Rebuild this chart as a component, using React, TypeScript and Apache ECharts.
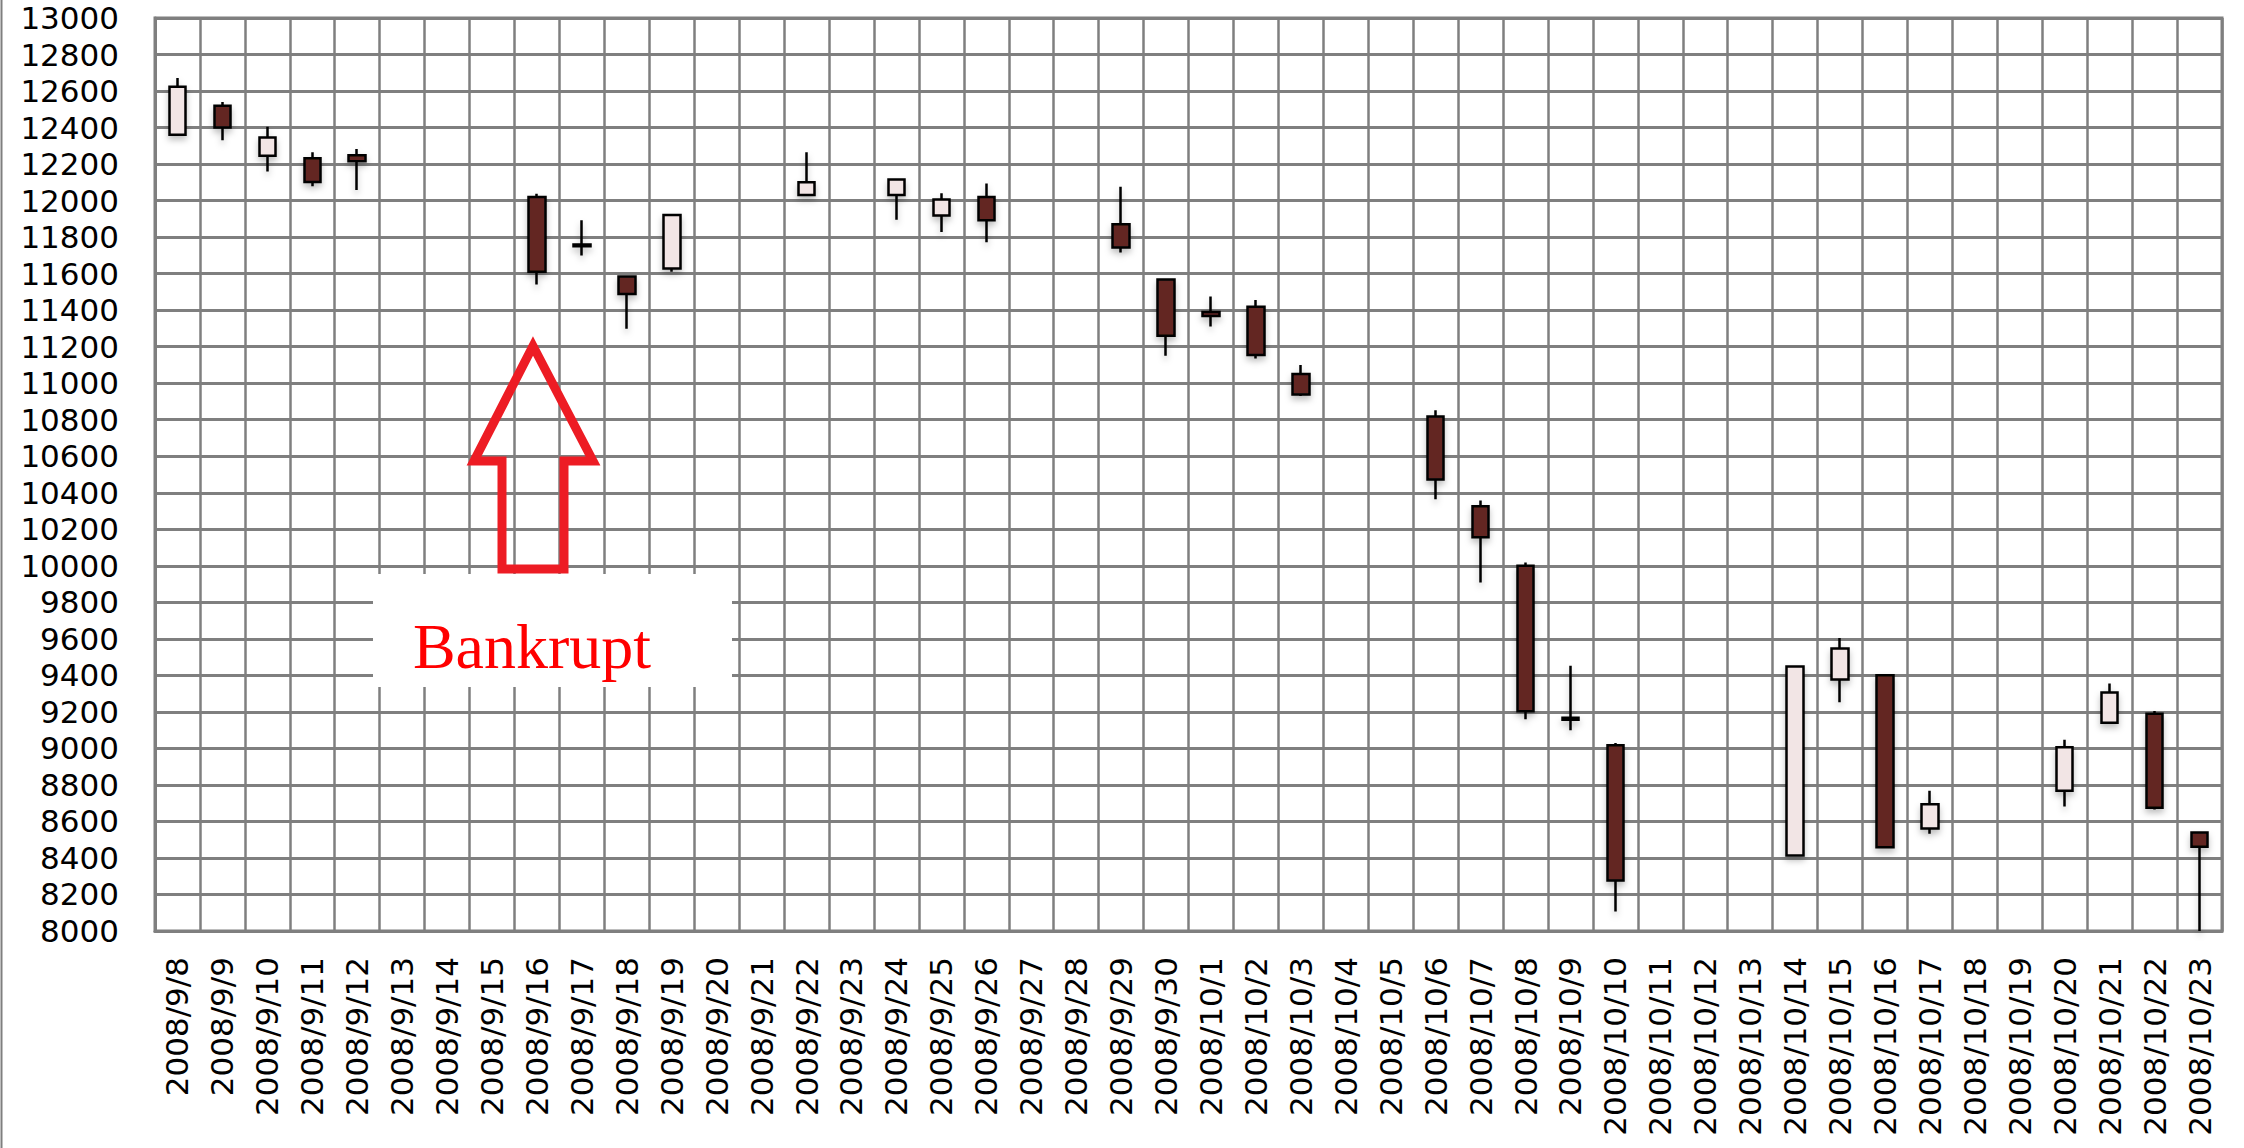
import React, { useEffect, useRef } from "react";
import * as echarts from "echarts";

const categories = [
  "2008/9/8", "2008/9/9", "2008/9/10", "2008/9/11", "2008/9/12", "2008/9/13", "2008/9/14", "2008/9/15",
  "2008/9/16", "2008/9/17", "2008/9/18", "2008/9/19", "2008/9/20", "2008/9/21", "2008/9/22", "2008/9/23",
  "2008/9/24", "2008/9/25", "2008/9/26", "2008/9/27", "2008/9/28", "2008/9/29", "2008/9/30", "2008/10/1",
  "2008/10/2", "2008/10/3", "2008/10/4", "2008/10/5", "2008/10/6", "2008/10/7", "2008/10/8", "2008/10/9",
  "2008/10/10", "2008/10/11", "2008/10/12", "2008/10/13", "2008/10/14", "2008/10/15", "2008/10/16", "2008/10/17",
  "2008/10/18", "2008/10/19", "2008/10/20", "2008/10/21", "2008/10/22", "2008/10/23",
];

const opens = [
  12360, 12520, 12245, 12232, 12248, null, null, null,
  12020, 11760, 11585, 11628, null, null, 12030, null,
  12030, 11918, 12020, null, null, 11870, 11568, 11390,
  11418, 11050, null, null, 10818, 10326, 10000, 9168,
  9017, null, null, null, 8414, 9377, 9400, 8562,
  null, null, 8768, 9140, 9190, 8540,
];
const closes = [
  12624, 12400, 12346, 12102, 12215, null, null, null,
  11610, 11750, 11489, 11921, null, null, 12100, null,
  12115, 12006, 11893, null, null, 11743, 11260, 11368,
  11155, 10938, null, null, 10473, 10156, 9203, 9157,
  8276, null, null, null, 9448, 9547, 8458, 8694,
  null, null, 9006, 9306, 8675, 8461,
];
const lows = [
  12355, 12330, 12160, 12078, 12058, null, null, null,
  11540, 11700, 11298, 11610, null, null, 12025, null,
  11895, 11828, 11772, null, null, 11716, 11150, 11310,
  11135, 10930, null, null, 10364, 9908, 9160, 9100,
  8107, null, null, null, 8410, 9253, 8455, 8533,
  null, null, 8682, 9135, 8665, 8000,
];
const highs = [
  12672, 12540, 12405, 12265, 12282, null, null, null,
  12038, 11893, 11590, 11925, null, null, 12265, null,
  12120, 12040, 12093, null, null, 12076, 11570, 11475,
  11455, 11100, null, null, 10852, 10357, 10018, 9452,
  9030, null, null, null, 9450, 9604, 9405, 8768,
  null, null, 9048, 9355, 9205, 8545,
];

const yMin = 8000;
const yMax = 13000;
const yStep = 200;
const annotationText = "Bankrupt";

export default function App() {
  const ref = useRef<HTMLDivElement>(null);
  useEffect(() => {
    if (!ref.current) return;
    const chart = echarts.init(ref.current, null, { renderer: "svg" });
    const data = categories.map((_, i) =>
      opens[i] == null
        ? ["-", "-", "-", "-"]
        : [opens[i], closes[i], lows[i], highs[i]]
    );
    const grey = "#7f7f7f";
    chart.setOption({
      animation: false,
      backgroundColor: "#ffffff",
      grid: {
        left: 155,
        right: 22,
        top: 18,
        bottom: 217,
        show: true,
        borderColor: grey,
        borderWidth: 3,
        backgroundColor: "transparent",
      },
      xAxis: {
        type: "category",
        data: categories,
        boundaryGap: true,
        axisLine: { show: true, lineStyle: { color: grey, width: 3 } },
        axisTick: { show: false },
        axisLabel: {
          interval: 0,
          rotate: 90,
          fontFamily: "DejaVu Sans",
          fontSize: 31,
          color: "#000",
          margin: 26,
        },
        splitLine: { show: true, interval: 0, lineStyle: { color: grey, width: 2.5 } },
      },
      yAxis: {
        type: "value",
        min: yMin,
        max: yMax,
        interval: yStep,
        axisLine: { show: true, lineStyle: { color: grey, width: 3 } },
        axisTick: { show: false },
        axisLabel: {
          fontFamily: "DejaVu Sans",
          fontSize: 31,
          color: "#000",
          margin: 36,
          formatter: (v: number) => String(v),
        },
        splitLine: { show: true, lineStyle: { color: grey, width: 3 } },
      },
      series: [
        {
          type: "candlestick",
          data,
          barWidth: 17,
          itemStyle: {
            color: "#F2E5E5",
            color0: "#632523",
            borderColor: "#000000",
            borderColor0: "#000000",
            borderWidth: 2.5,
            shadowBlur: 6,
            shadowColor: "rgba(0,0,0,0.25)",
            shadowOffsetY: 4,
          },
        },
      ],
      graphic: [
        {
          type: "line",
          z: 100,
          shape: { x1: 1.5, y1: 0, x2: 1.5, y2: 1148 },
          style: { stroke: grey, lineWidth: 2 },
        },
        {
          type: "rect",
          z: 100,
          shape: { x: 373, y: 574, width: 359, height: 113 },
          style: { fill: "#ffffff" },
        },
        {
          type: "text",
          z: 101,
          x: 532,
          y: 646,
          style: {
            text: annotationText,
            fill: "#ff0000",
            fontSize: 64,
            fontFamily: "Liberation Serif",
            align: "center",
            verticalAlign: "middle",
            textAlign: "center",
            textVerticalAlign: "middle",
          },
        },
        {
          type: "polygon",
          z: 101,
          shape: {
            points: [
              [533, 346],
              [593, 461],
              [564, 461],
              [564, 569],
              [502, 569],
              [502, 461],
              [474, 461],
            ],
          },
          style: { fill: "none", stroke: "#ED1C24", lineWidth: 9, lineJoin: "miter" },
        },
      ],
    });
    return () => chart.dispose();
  }, []);
  return (
    <div
      ref={ref}
      style={{ position: "fixed", left: 0, top: 0, width: 2244, height: 1148, background: "#fff" }}
    />
  );
}
